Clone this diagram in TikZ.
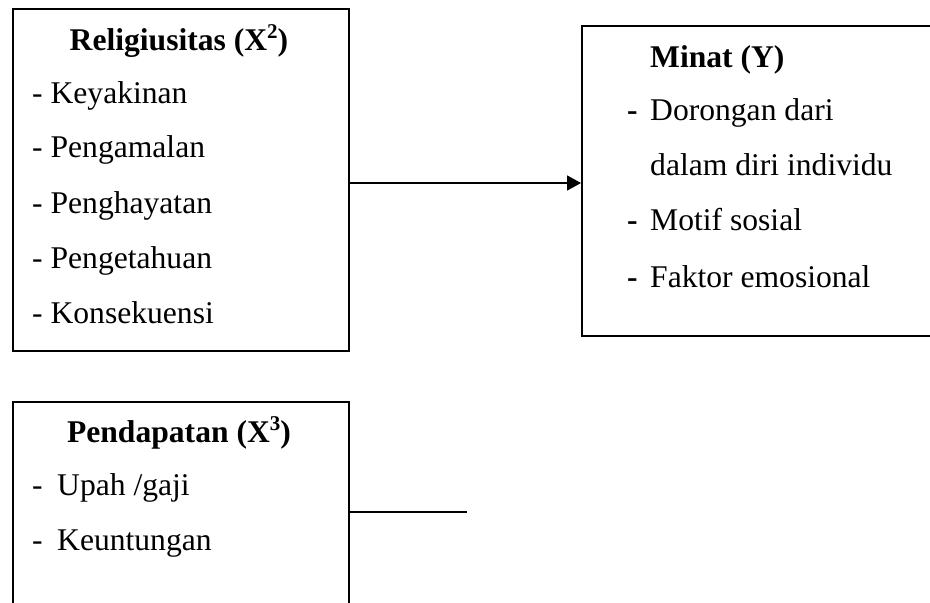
\documentclass[tikz,border=0pt]{standalone}
\usepackage{fontspec}
\setmainfont{Liberation Serif}
\usetikzlibrary{arrows.meta}
\newcommand{\bigtxt}{\fontsize{31.6}{38}\selectfont}
\newcommand{\supx}[1]{\raisebox{0.36em}{\fontsize{21}{21}\selectfont #1}}
\begin{document}
\begin{tikzpicture}[x=1pt,y=-1pt,
  boxst/.style={draw,line width=1.8pt,rectangle,anchor=north west,inner sep=0pt},
  txt/.style={anchor=base west,inner sep=0pt,font=\bigtxt},
  ttl/.style={anchor=base,inner sep=0pt,font=\bigtxt\bfseries},
  conn/.style={line width=1.8pt},
  arr/.style={line width=1.8pt,-{Triangle[length=14pt,width=15pt]}}]
\clip (0,0) rectangle (930,603);
\fill[white] (0,0) rectangle (930,603);
% boxes
\node[boxst,minimum width=336pt,minimum height=342pt] (b1) at (12,8) {};
\node[boxst,minimum width=370pt,minimum height=310pt] (b2) at (581,25) {};
\node[boxst,minimum width=336pt,minimum height=230pt] (b3) at (12,401) {};
% box 1 text
\node[ttl] (t1) at (179,50) {Religiusitas (X\supx{2})};
\node[txt] (r1) at (32,103) {- Keyakinan};
\node[txt] (r2) at (32,157) {- Pengamalan};
\node[txt] (r3) at (32,213) {- Penghayatan};
\node[txt] (r4) at (32,268) {- Pengetahuan};
\node[txt] (r5) at (32,323) {- Konsekuensi};
% box 2 text
\node[txt,font=\bigtxt\bfseries] (t2) at (650,67) {Minat (Y)};
\node[txt,font=\bigtxt\bfseries] (d1) at (627,120) {-};
\node[txt] (m1) at (650,120) {Dorongan dari};
\node[txt] (m2) at (650,175) {dalam diri individu};
\node[txt,font=\bigtxt\bfseries] (d3) at (627,230) {-};
\node[txt] (m3) at (650,230) {Motif sosial};
\node[txt,font=\bigtxt\bfseries] (d4) at (627,287) {-};
\node[txt] (m4) at (650,287) {Faktor emosional};
% box 3 text
\node[ttl] (t3) at (179,442) {Pendapatan (X\supx{3})};
\node[txt] (e1d) at (32,495) {-};
\node[txt] (e1) at (57,495) {Upah /gaji};
\node[txt] (e2d) at (32,550) {-};
\node[txt] (e2) at (57,550) {Keuntungan};
% connectors
\coordinate (lineend) at (467,512);
\draw[arr] (b1.east |- 0,183) -- (b2.west |- 0,183);
\draw[conn] (b3.east |- lineend) -- (lineend);
\end{tikzpicture}
\end{document}
